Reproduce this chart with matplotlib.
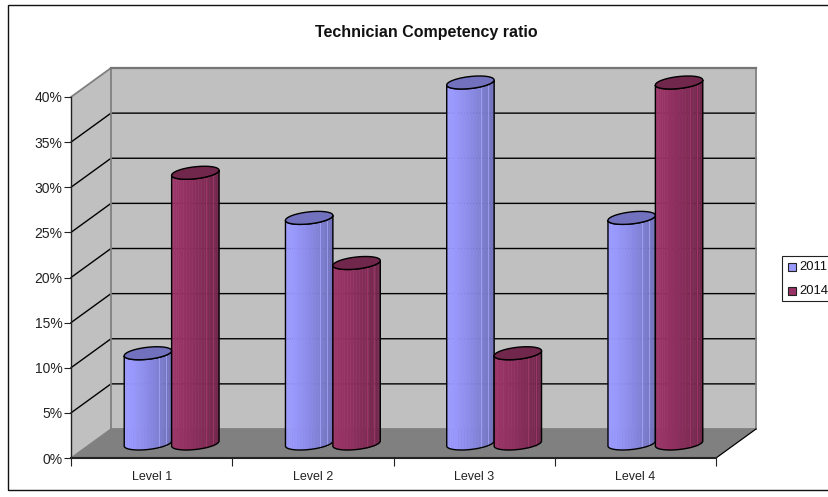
import numpy as np
import matplotlib
matplotlib.use("Agg")
import matplotlib.pyplot as plt
from matplotlib.patches import Polygon, Rectangle
from matplotlib.colors import to_rgb

categories = ["Level 1", "Level 2", "Level 3", "Level 4"]
series_names = ["2011", "2014"]
values_2011 = [10, 25, 40, 25]
values_2014 = [30, 20, 10, 40]
y_ticks = [0, 5, 10, 15, 20, 25, 30, 35, 40]

W, H = 829, 497
plt.rcParams["font.family"] = ["Liberation Sans", "DejaVu Sans"]
fig = plt.figure(figsize=(W / 100, H / 100), dpi=100)
fig.patch.set_facecolor("white")

L, R, T, B = 71, 716, 97, 458
ax = fig.add_axes([L / W, 1 - B / H, (R - L) / W, (B - T) / H])
ax.set_xlim(0, 4)
ax.set_ylim(0, 40)
ax.patch.set_alpha(0)
for s in ["top", "right"]:
    ax.spines[s].set_visible(False)
ax.spines["left"].set_linewidth(1)
ax.spines["left"].set_color("#222222")
ax.spines["bottom"].set_linewidth(1.5)
ax.spines["bottom"].set_color("#222222")
ax.set_xticks(range(5))
ax.set_xticklabels([])
ax.set_xticks([i + 0.5 for i in range(4)], minor=True)
ax.set_xticklabels(categories, minor=True, fontsize=9.0, color="#222222")
ax.tick_params(axis="x", which="major", length=6, width=0.8, color="#222222")
ax.tick_params(axis="x", which="minor", length=0, pad=9)
ax.set_yticks(y_ticks)
ax.set_yticklabels([f"{v}%" for v in y_ticks], fontsize=10, color="#222222")
ax.tick_params(axis="y", length=5, width=0.8, color="#222222", pad=1)

DX = 40 / (R - L) * 4
DY = 29 / (B - T) * 40


def poly(pts, **kw):
    kw.setdefault("clip_on", False)
    p = Polygon(pts, closed=True, **kw)
    ax.add_patch(p)
    return p


poly([(0, 0), (DX, DY), (DX, 40 + DY), (0, 40)], fc="#C0C0C0", ec="none", zorder=0.5)
poly([(DX, DY), (4 + DX, DY), (4 + DX, 40 + DY), (DX, 40 + DY)], fc="#C0C0C0", ec="none", zorder=0.5)
poly([(0, 0), (4, 0), (4 + DX, DY), (DX, DY)], fc="#808080", ec="none", zorder=0.6)
for v in y_ticks[1:-1]:
    ax.plot([0, DX, 4 + DX], [v, v + DY, v + DY], color="black", lw=1, zorder=0.8, clip_on=False)
ax.plot([0, DX, DX, 4 + DX, 4 + DX], [40, 40 + DY, DY, DY, 40 + DY], color="#808080", lw=1.3, zorder=0.9, clip_on=False)
ax.plot([DX, 4 + DX], [40 + DY, 40 + DY], color="#757575", lw=1.6, zorder=0.9, clip_on=False)
ax.plot([0, DX], [0, DY], color="#808080", lw=1, zorder=0.9, clip_on=False)
ax.plot([4, 4 + DX], [0, DY], color="black", lw=0.9, zorder=0.9, clip_on=False)


def shade(color, f):
    c = np.array(to_rgb(color))
    return tuple(np.clip(c * f, 0, 1))


HW = 23.7 / (R - L) * 4
RY = 6.0 / (B - T) * 40
TILT = 2.5 / (B - T) * 40


def cylinder(xc, value, color, z):
    y0 = DY / 2
    y1 = y0 + value
    t = np.linspace(np.pi, 2 * np.pi, 61)
    edges = np.linspace(np.pi, 2 * np.pi, 25)
    for a, b in zip(edges[:-1], edges[1:]):
        mid = (a + b) / 2
        frac = (1 + np.cos(mid)) / 2
        f = 1.0 - 0.27 * frac ** 1.4 + 0.02 * (1 - frac)
        tt = np.linspace(a, b, 5)
        xs = xc + HW * np.cos(tt)
        ys = TILT * np.cos(tt) + RY * np.sin(tt)
        pts = np.r_[np.c_[xs, y0 + ys], np.c_[xs[::-1], y1 + ys[::-1]]]
        poly(pts, fc=shade(color, f), ec=shade(color, f), lw=0.3, zorder=z)
    for cosv in (0.45, 0.75):
        sinv = -np.sqrt(1 - cosv ** 2)
        x = xc + HW * cosv
        dy = TILT * cosv + RY * sinv
        ax.plot([x, x], [y0 + dy, y1 + dy], color=shade(color, 1.12), lw=0.7, alpha=0.7,
                zorder=z + 0.005, clip_on=False)
    ex = xc + HW * np.cos(t)
    ys = TILT * np.cos(t) + RY * np.sin(t)
    pts = np.r_[np.c_[ex, y0 + ys], np.c_[ex[::-1], y1 + ys[::-1]]]
    poly(pts, fc="none", ec="black", lw=1, zorder=z + 0.01)
    tc = np.linspace(0, 2 * np.pi, 121)
    cap = np.c_[xc + HW * np.cos(tc), y1 + TILT * np.cos(tc) + RY * np.sin(tc)]
    poly(cap, fc=shade(color, 0.74), ec="black", lw=1, zorder=z + 0.02)


BLUE = "#9999FF"
RED = "#993366"
for i in range(4):
    xc = i + 0.5 + DX / 2
    cylinder(xc - HW, values_2011[i], BLUE, 2 + i)
    cylinder(xc + HW, values_2014[i], RED, 2.5 + i)

fig.add_artist(Rectangle((8 / W, 1 - 490 / H), 2, (490 - 5) / H, transform=fig.transFigure,
                         fc="none", ec="#111111", lw=1))

fig.text(426 / W, 1 - 32 / H, "Technician Competency ratio", ha="center", va="center",
         fontsize=11.5, fontweight="bold", color="#111111")

fig.add_artist(Rectangle((782 / W, 1 - 301 / H), 60 / W, 45 / H, transform=fig.transFigure,
                         fc="white", ec="#222222", lw=0.8))
for name, col, yy in zip(series_names, [BLUE, RED], [267, 291]):
    fig.add_artist(Rectangle((788 / W, 1 - (yy + 4) / H), 8 / W, 8 / H, transform=fig.transFigure,
                             fc=col, ec="#222222", lw=0.8))
    fig.text(799.5 / W, 1 - yy / H, name, ha="left", va="center", fontsize=9.4, color="#111111")

fig.savefig("out.png", dpi=100)
